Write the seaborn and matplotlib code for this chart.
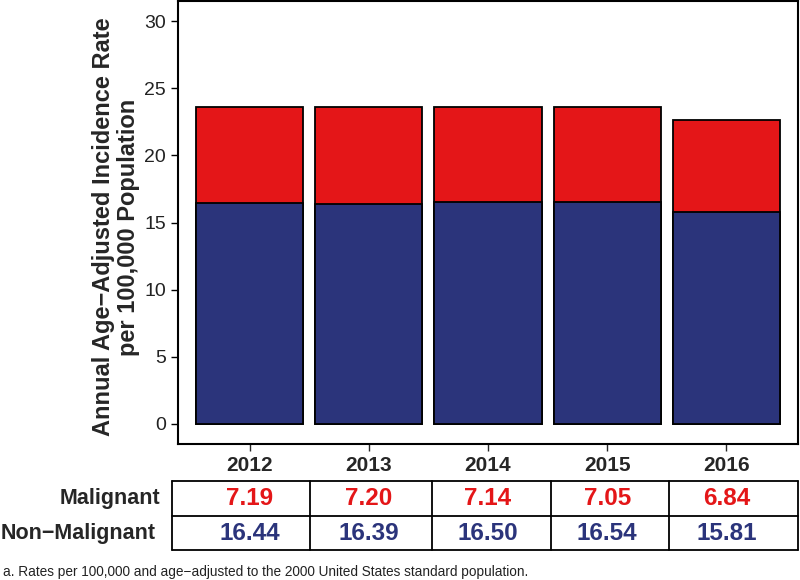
import matplotlib
matplotlib.use("Agg")
import matplotlib.pyplot as plt
import matplotlib.transforms as mtransforms
import seaborn as sns
import pandas as pd

years = ["2012", "2013", "2014", "2015", "2016"]
malignant = [7.19, 7.20, 7.14, 7.05, 6.84]
non_malignant = [16.44, 16.39, 16.50, 16.54, 15.81]
row_labels = ["Malignant", "Non\u2212Malignant"]
yticks = [0, 5, 10, 15, 20, 25, 30]
ylabel = "Annual Age\u2212Adjusted Incidence Rate\nper 100,000 Population"
footnote = "a. Rates per 100,000 and age\u2212adjusted to the 2000 United States standard population."

RED = "#E41618"
NAVY = "#2B347B"

sns.set_style("white")
plt.rcParams['font.family'] = ['Liberation Sans', 'DejaVu Sans']

df = pd.DataFrame({"year": years, "mal": malignant, "non": non_malignant})
df["total"] = df["mal"] + df["non"]

fig = plt.figure(figsize=(8, 5.8), dpi=100)
ax = fig.add_axes([0.2225, 0.2345, 0.775, 0.7635])

sns.barplot(data=df, x="year", y="total", color=RED, edgecolor="black",
            linewidth=1.3, width=0.9, saturation=1, ax=ax)
sns.barplot(data=df, x="year", y="non", color=NAVY, edgecolor="black",
            linewidth=1.3, width=0.9, saturation=1, ax=ax)

ax.set_xlim(-0.6, 4.6)
ax.set_ylim(-1.5, 31.5)
ax.set_yticks(yticks)
ax.set_xlabel("")
ax.set_ylabel(ylabel, fontsize=17, fontweight="bold", labelpad=2, linespacing=1.12)
ax.yaxis.set_label_coords(-0.061, 0.49)
ax.tick_params(axis="y", labelsize=14, colors="black", length=5, width=1,
               direction="out", left=True, labelcolor="#222222")
ax.tick_params(axis="x", labelsize=15, length=5, width=1, direction="out",
               bottom=True, pad=4)
for lab in ax.get_xticklabels():
    lab.set_fontweight("bold")
for s in ax.spines.values():
    s.set_visible(True)
    s.set_color("black")
    s.set_linewidth(1.5)

# table below the chart
trans = mtransforms.blended_transform_factory(ax.transData, fig.transFigure)
top_y = 1 - 481 / 580
mid_y = 1 - 516 / 580
bot_y = 1 - 550 / 580
x_left = 172 / 800
x_right = 798 / 800
col_x = [310 / 800, 432 / 800, 551 / 800, 669 / 800]
lw = 1.3
for y in (top_y, mid_y, bot_y):
    fig.add_artist(plt.Line2D([x_left, x_right], [y, y], color="black", lw=lw,
                              transform=fig.transFigure))
for x in [x_left] + col_x + [x_right]:
    fig.add_artist(plt.Line2D([x, x], [bot_y, top_y], color="black", lw=lw,
                              transform=fig.transFigure))

row1_y = (top_y + mid_y) / 2
row2_y = (mid_y + bot_y) / 2
for i, (m, n) in enumerate(zip(malignant, non_malignant)):
    ax.text(i, row1_y, f"{m:.2f}", transform=trans, ha="center", va="center",
            color=RED, fontsize=17.5, fontweight="bold")
    ax.text(i, row2_y, f"{n:.2f}", transform=trans, ha="center", va="center",
            color=NAVY, fontsize=17.5, fontweight="bold")

fig.text(160 / 800, row1_y, row_labels[0], ha="right", va="center",
         fontsize=15.5, fontweight="bold")
fig.text(156 / 800, row2_y, row_labels[1], ha="right", va="center",
         fontsize=15.5, fontweight="bold")

fig.text(3 / 800, 1 - 572 / 580, footnote, ha="left", va="center", fontsize=9.8,
         color="#222222")

fig.savefig("out.png", dpi=100)
